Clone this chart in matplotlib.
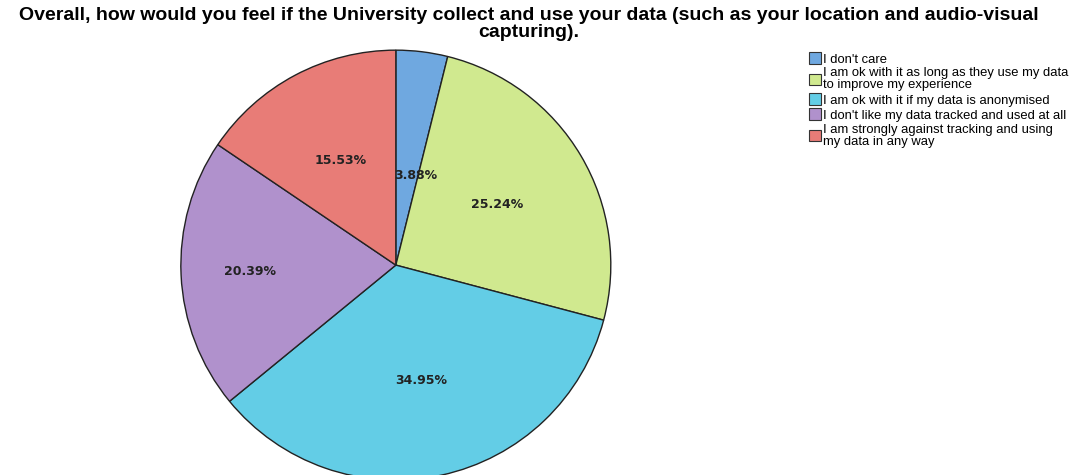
import matplotlib
matplotlib.use('Agg')
import matplotlib.pyplot as plt
from matplotlib.patches import Patch

# survey answers and shares (percent)
labels = ["I don't care",
          "I am ok with it as long as they use my data\nto improve my experience",
          "I am ok with it if my data is anonymised",
          "I don't like my data tracked and used at all",
          "I am strongly against tracking and using\nmy data in any way"]
shares = [3.88, 25.24, 34.95, 20.39, 15.53]
colors = ['#6fa8e0', '#d0e98f', '#63cde6', '#b091cc', '#e87c77']

title = ("Overall, how would you feel if the University collect and use your data (such as your location and audio-visual\n"
         "capturing).")

fig = plt.figure(figsize=(10.83, 4.75), dpi=100)
fig.patch.set_facecolor('white')

ax = fig.add_axes([0.167, -0.0106, 0.397, 0.905])
wedges, texts, autotexts = ax.pie(shares, colors=colors, startangle=90, counterclock=False,
                                  autopct='%.2f%%', pctdistance=0.55,
                                  wedgeprops=dict(edgecolor='#222222', linewidth=1.0),
                                  textprops=dict(fontsize=9, fontweight='bold', color='#222222'))
ax.set_aspect('auto')
ax.set_xlim(-1, 1)
ax.set_ylim(-1, 1)

# nudge a couple of labels to where the original puts them
radius_scale = {0: 0.42 / 0.55, 3: 0.68 / 0.55}
for i, s in radius_scale.items():
    x, y = autotexts[i].get_position()
    autotexts[i].set_position((x * s + (0.04 if i == 0 else 0), y * s))

fig.text(0.488, 0.986, title, ha='center', va='top', fontsize=14.0, fontweight='bold',
         family='Liberation Sans', linespacing=1.02)

handles = [Patch(facecolor=c, edgecolor='#333333', linewidth=0.8) for c in colors]
fig.legend(handles, labels, loc='upper left', bbox_to_anchor=(0.747, 0.89),
           frameon=False, handlelength=0.9, handleheight=1.0,
           handletextpad=0.15, labelspacing=0.14, borderpad=0, borderaxespad=0,
           prop=dict(family='Liberation Sans', size=9.4))
for t in fig.legends[0].get_texts():
    t.set_linespacing(1.0)

fig.savefig('out.png', dpi=100)
